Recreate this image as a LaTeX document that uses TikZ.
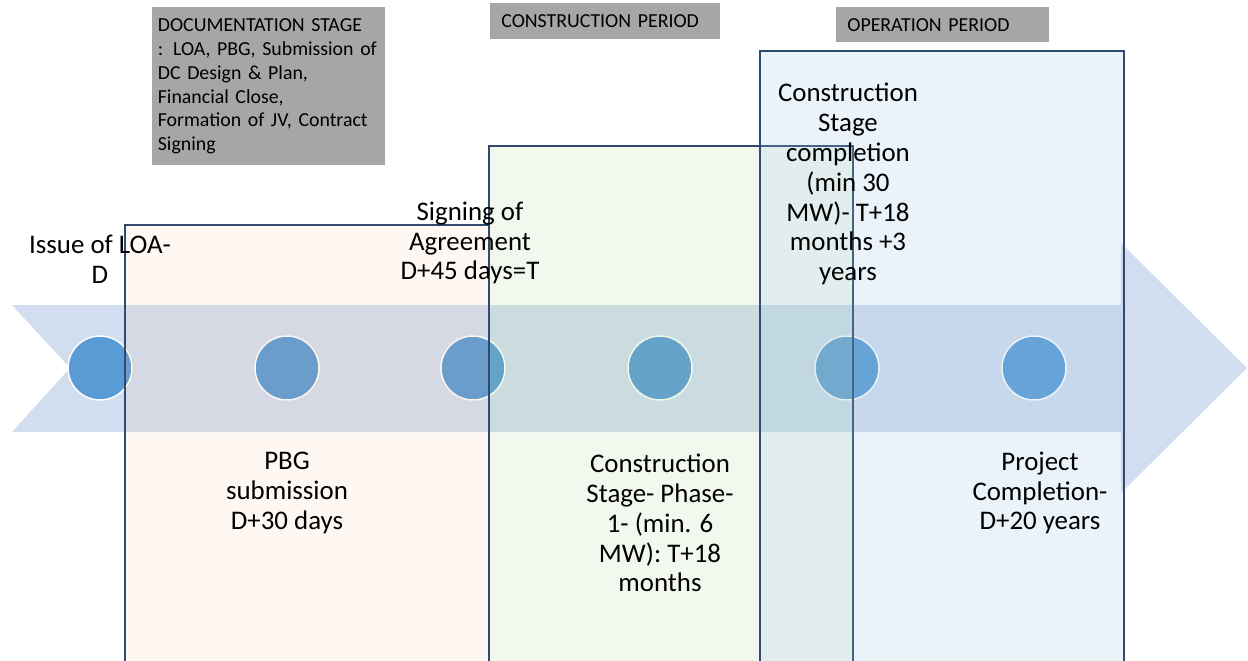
\documentclass[tikz,border=0pt]{standalone}
\usepackage{fontspec}
\setmainfont{Carlito}
\definecolor{arrowblue}{HTML}{D2DEEF}
\definecolor{dotblue}{HTML}{5B9BD5}
\definecolor{edgeblue}{HTML}{2F4B6F}
\definecolor{boxgray}{HTML}{A6A6A6}
\definecolor{docfill}{HTML}{F4B183}
\definecolor{buildfill}{HTML}{A9D18E}
\definecolor{runfill}{HTML}{9DC3E6}
\begin{document}
\begin{tikzpicture}[x=0.02cm,y=-0.02cm,
  milestone/.style={fill=dotblue,draw=white,line width=0.85pt,circle,inner sep=0pt,minimum size=1.28cm},
  period/.style={draw=edgeblue,line width=1.1pt},
  eventtext/.style={align=center,font=\fontsize{15.3}{17}\selectfont},
  stagebox/.style={fill=boxgray,anchor=north west,align=left,inner ysep=0pt,font=\fontsize{11.3}{13.6}\selectfont}]

\useasboundingbox (0,0) rectangle (1248,660);

\fill [arrowblue] (12,305) -- (1121,305) -- (1121,243) -- (1247,368) -- (1121,493) -- (1121,432) -- (12,432) -- (70,368) -- cycle;

\node [milestone] at (100,368) (m1) {};
\node [milestone] at (287,368) (m2) {};
\node [milestone] at (473,368) (m3) {};
\node [milestone] at (660,368) (m4) {};
\node [milestone] at (847,368) (m5) {};
\node [milestone] at (1034,368) (m6) {};

\draw [period,fill=docfill,fill opacity=0.1] (125,225) rectangle (489,665);
\draw [period,fill=buildfill,fill opacity=0.15] (489,146) rectangle (853,665);
\draw [period,fill=runfill,fill opacity=0.2] (760,51) rectangle (1124,665);

\node [eventtext] at (100,259) (issue) {Issue of LOA-\\D};
\node [eventtext] at (470,243) (signing) {Signing of\\Agreement\\D+45 days=T};
\node [eventtext] at (848,184) (stagedone) {Construction\\Stage\\completion\\(min 30\\MW)- T+18\\months +3\\years};
\node [eventtext] at (287,493) (pbg) {PBG\\submission\\D+30 days};
\node [eventtext] at (660,523) (phaseone) {Construction\\Stage- Phase-\\1- (min. 6\\MW): T+18\\months};
\node [eventtext] at (1040,493) (projectdone) {Project\\Completion-\\D+20 years};

\node [stagebox,text width=4.44cm,inner xsep=0.11cm,minimum height=3.16cm] at (152,7) (docstage) {DOCUMENTATION STAGE\\: LOA, PBG, Submission of\\DC Design \& Plan,\\Financial Close,\\Formation of JV, Contract\\Signing};
\node [stagebox,text width=4.16cm,inner xsep=0.22cm,minimum height=0.72cm] at (490,3) (buildstage) {CONSTRUCTION PERIOD};
\node [stagebox,text width=3.82cm,inner xsep=0.22cm,minimum height=0.7cm] at (836,7) (runstage) {OPERATION PERIOD};

\end{tikzpicture}
\end{document}
